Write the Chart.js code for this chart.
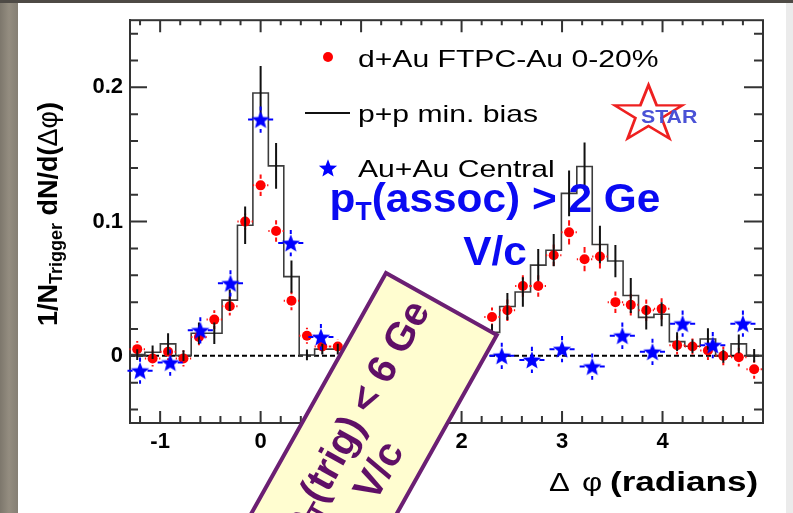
<!DOCTYPE html>
<html><head><meta charset="utf-8">
<script src="https://cdn.jsdelivr.net/npm/chart.js@4"></script>
<style>html,body{margin:0;padding:0;background:#fff;overflow:hidden}#wrap{width:793px;height:513px;position:relative}</style>
</head><body><div id="wrap"><canvas id="c" width="793" height="513"></canvas></div>
<script>
// ---- data ----
const binCenters = [-1.228,-1.075,-0.921,-0.768,-0.614,-0.461,-0.307,-0.154,0,0.154,0.307,0.461,0.614,0.768,0.921,1.075,1.228,1.382,1.535,1.689,1.842,1.996,2.149,2.303,2.456,2.610,2.763,2.917,3.070,3.224,3.377,3.531,3.684,3.838,3.991,4.145,4.298,4.452,4.605,4.759,4.912];
const binHalfWidth = 0.077;
const ppValues = [0.001,0.0027,0.0089,0.0002,0.0168,0.0168,0.0415,0.0973,0.1958,0.1415,0.059,0.0007,0.005,0.005,0.004,0.004,0.004,0.005,0.005,0.006,0.007,0.009,0.012,0.0175,0.0368,0.0476,0.0676,0.0787,0.121,0.141,0.083,0.0706,0.045,0.0287,0.031,0.0106,0.0072,0.0126,-0.0002,0.0089,0.0002];
const ppErrors = [0.004,0.005,0.008,0.004,0.008,0.008,0.008,0.014,0.02,0.017,0.012,0.004,0.004,0.004,0.004,0.004,0.004,0.004,0.004,0.005,0.005,0.005,0.006,0.006,0.01,0.011,0.012,0.012,0.017,0.018,0.014,0.012,0.013,0.009,0.009,0.007,0.005,0.008,0.005,0.007,0.005];
const dAuValues = [0.005,-0.002,0.003,-0.002,0.014,0.027,0.037,0.100,0.127,0.093,0.041,0.015,0.007,0.007,null,null,null,null,null,null,null,null,null,0.029,0.034,0.052,0.052,0.075,0.092,0.072,0.074,0.040,0.038,0.034,0.035,0.008,0.007,0.004,0.000,-0.001,-0.010];
const dAuErrors = [0.006,0.006,0.006,0.006,0.006,0.007,0.007,0.006,0.008,0.008,0.007,0.006,0.005,0.005,null,null,null,null,null,null,null,null,null,0.007,0.008,0.008,0.008,0.008,0.009,0.009,0.009,0.008,0.008,0.008,0.008,0.007,0.006,0.007,0.007,0.007,0.007];
const auX = [-1.2,-0.9,-0.6,-0.3,0,0.3,0.6,2.4,2.7,3.0,3.3,3.6,3.9,4.2,4.5,4.8];
const auValues = [-0.011,-0.005,0.019,0.054,0.176,0.084,0.014,0.000,-0.003,0.005,-0.008,0.015,0.003,0.024,0.008,0.024];
const auErrors = [0.0098,0.0098,0.0098,0.0098,0.0098,0.0098,0.0098,0.0098,0.0098,0.0098,0.0098,0.0098,0.0098,0.0098,0.0098,0.0098];
const auXHalfWidth = 0.125;
const xTickValues = [-1,0,1,2,3,4];
const yTickValues = [0,0.1,0.2];
const legendLabels = ['d+Au FTPC-Au 0-20%','p+p min. bias','Au+Au Central'];

// ---- build datasets ----
const histData = [{x: binCenters[0]-binHalfWidth, y: ppValues[0]}]
  .concat(binCenters.map((x,i)=>({x, y: ppValues[i]})))
  .concat([{x: binCenters[binCenters.length-1]+binHalfWidth, y: ppValues[ppValues.length-1]}]);
const redData = binCenters.map((x,i)=>({x, y: dAuValues[i], e: dAuErrors[i]})).filter(p=>p.y!==null);
const blueData = auX.map((x,i)=>({x, y: auValues[i], e: auErrors[i]}));

function makeStar(R, r, color){
  const c = document.createElement('canvas');
  const s = Math.ceil(2*R+2); c.width = s; c.height = s;
  const g = c.getContext('2d');
  g.fillStyle = color; g.beginPath();
  for (let i=0;i<10;i++){
    const a = -Math.PI/2 + i*Math.PI/5, rr = i%2===0 ? R : r;
    const px = s/2 + rr*Math.cos(a), py = s/2 + rr*Math.sin(a)+0.8;
    i===0 ? g.moveTo(px,py) : g.lineTo(px,py);
  }
  g.closePath(); g.fill();
  return c;
}
const starImg = makeStar(9.6, 4.1, '#0000ff');

const FONT = 'Liberation Sans, Arial, sans-serif';
function drawSegs(ctx, segs, x, y, stretch, align){
  let w = 0;
  segs.forEach(s=>{ctx.font = s.font; s.w = ctx.measureText(s.t).width; w += s.w;});
  ctx.save(); ctx.translate(x,y); ctx.scale(stretch,1);
  ctx.textAlign = 'left'; ctx.textBaseline = 'alphabetic';
  let cx = align==='center' ? -w/2 : (align==='right' ? -w : 0);
  segs.forEach(s=>{ctx.font = s.font; ctx.fillText(s.t, cx, s.dy||0); cx += s.w;});
  ctx.restore();
  return w;
}

const decor = {
  id: 'decor',
  beforeDraw(chart){
    const ctx = chart.ctx;
    ctx.save();
    ctx.fillStyle = '#ffffff'; ctx.fillRect(0,0,793,513);
    const g = ctx.createLinearGradient(0,0,18,0);
    g.addColorStop(0,'#7d776c'); g.addColorStop(0.5,'#948d80'); g.addColorStop(1,'#857f74');
    ctx.fillStyle = g; ctx.fillRect(0,0,18,513);
    ctx.fillStyle = '#4e4a45'; ctx.fillRect(0,0,793,3);
    ctx.fillStyle = '#ebebeb'; ctx.fillRect(786,3,7,510);
    ctx.restore();
  },
  beforeDatasetsDraw(chart){
    const ctx = chart.ctx, a = chart.chartArea, xs = chart.scales.x, ys = chart.scales.y;
    ctx.save();
    ctx.strokeStyle = '#000'; ctx.lineWidth = 2; ctx.setLineDash([5,3]);
    const y0 = ys.getPixelForValue(0);
    ctx.beginPath(); ctx.moveTo(a.left, y0); ctx.lineTo(a.right, y0); ctx.stroke();
    ctx.setLineDash([]);
    ctx.strokeStyle = '#333'; ctx.lineWidth = 2;
    ctx.strokeRect(a.left, a.top, a.right-a.left, a.bottom-a.top);
    ctx.beginPath();
    for (let v=-1.2; v<=5.0001; v+=0.2){
      const px = xs.getPixelForValue(v);
      const major = Math.abs(v-Math.round(v))<1e-6;
      ctx.moveTo(px, a.bottom); ctx.lineTo(px, a.bottom-(major?12:7));
      ctx.moveTo(px, a.top); ctx.lineTo(px, a.top+(major?12:5));
    }
    for (let v=-0.04; v<=0.2401; v+=0.02){
      const py = ys.getPixelForValue(v);
      const major = Math.abs(v*10-Math.round(v*10))<1e-6;
      ctx.moveTo(a.left, py); ctx.lineTo(a.left+(major?17:8), py);
      ctx.moveTo(a.right, py); ctx.lineTo(a.right-(major?19:9), py);
    }
    ctx.stroke();
    ctx.restore();
  },
  beforeDatasetDraw(chart, args){
    const ctx = chart.ctx, xs = chart.scales.x, ys = chart.scales.y;
    ctx.save();
    if (args.index === 1){
      ctx.strokeStyle = '#ff1010'; ctx.lineWidth = 2;
      ctx.beginPath();
      redData.forEach(p=>{
        const px = xs.getPixelForValue(p.x), py = ys.getPixelForValue(p.y);
        const dy = ys.getPixelForValue(p.y-p.e) - py;
        const dx = xs.getPixelForValue(p.x+binHalfWidth) - px;
        ctx.moveTo(px, py-dy); ctx.lineTo(px, py-6.5);
        ctx.moveTo(px, py+6.5); ctx.lineTo(px, py+dy);
        ctx.moveTo(px-dx, py); ctx.lineTo(px-6.5, py);
        ctx.moveTo(px+6.5, py); ctx.lineTo(px+dx, py);
      });
      ctx.stroke();
    }
    if (args.index === 2){
      ctx.strokeStyle = '#111'; ctx.lineWidth = 2;
      ctx.beginPath();
      binCenters.forEach((x,i)=>{
        const px = xs.getPixelForValue(x);
        ctx.moveTo(px, ys.getPixelForValue(ppValues[i]-ppErrors[i]));
        ctx.lineTo(px, ys.getPixelForValue(ppValues[i]+ppErrors[i]));
      });
      ctx.stroke();
      ctx.strokeStyle = '#0000ff'; ctx.lineWidth = 2;
      ctx.beginPath();
      blueData.forEach(p=>{
        const px = xs.getPixelForValue(p.x), py = ys.getPixelForValue(p.y);
        const dy = ys.getPixelForValue(p.y-p.e) - py;
        const dx = xs.getPixelForValue(p.x+auXHalfWidth) - px;
        ctx.moveTo(px, py-dy); ctx.lineTo(px, py-9);
        ctx.moveTo(px, py+9.5); ctx.lineTo(px, py+dy);
        ctx.moveTo(px-dx, py); ctx.lineTo(px-7.5, py);
        ctx.moveTo(px+7.5, py); ctx.lineTo(px+dx, py);
      });
      ctx.stroke();
    }
    ctx.restore();
  },
  afterDatasetsDraw(chart){
    const ctx = chart.ctx;
    ctx.save();
    // legend
    ctx.fillStyle = '#ff0000';
    ctx.beginPath(); ctx.arc(328, 57, 5, 0, Math.PI*2); ctx.fill();
    ctx.strokeStyle = '#111'; ctx.lineWidth = 2;
    ctx.beginPath(); ctx.moveTo(305,113); ctx.lineTo(350,113); ctx.stroke();
    ctx.drawImage(starImg, 328-starImg.width/2, 168-starImg.height/2);
    ctx.fillStyle = '#000';
    const lf = '24px '+FONT;
    drawSegs(ctx, [{t:legendLabels[0], font:lf}], 358, 66.5, 1.255, 'left');
    drawSegs(ctx, [{t:legendLabels[1], font:lf}], 358, 121.5, 1.255, 'left');
    drawSegs(ctx, [{t:legendLabels[2], font:lf}], 358, 176.7, 1.255, 'left');

    // STAR logo
    ctx.save();
    ctx.translate(648.5, 114.5); ctx.scale(1.2, 1);
    ctx.strokeStyle = '#ee2020'; ctx.lineWidth = 2.4; ctx.lineJoin = 'miter';
    ctx.beginPath();
    for (let i=0;i<10;i++){
      const ang = -Math.PI/2 + i*Math.PI/5, rr = i%2===0 ? 29.5 : 11.5;
      const px = rr*Math.cos(ang), py = rr*Math.sin(ang);
      i===0 ? ctx.moveTo(px,py) : ctx.lineTo(px,py);
    }
    ctx.closePath(); ctx.stroke();
    ctx.restore();
    ctx.fillStyle = '#4a52d6';
    drawSegs(ctx, [{t:'STAR', font:'bold 19px '+FONT}], 641, 122.5, 1.12, 'left');

    // blue annotation
    ctx.fillStyle = '#0a0af2';
    const bf = 'bold 40px '+FONT;
    drawSegs(ctx, [{t:'p', font:bf},{t:'T', font:'bold 25px '+FONT, dy:8},{t:'(assoc) > 2 Ge', font:bf}], 495, 212, 1.06, 'center');
    drawSegs(ctx, [{t:'V/c', font:bf}], 495, 265, 1.06, 'center');

    // rotated trigger box
    ctx.save();
    ctx.translate(386, 273);
    ctx.rotate(-60.75*Math.PI/180);
    ctx.fillStyle = '#fffdd0';
    ctx.fillRect(-700, 0, 700, 127);
    ctx.strokeStyle = '#6b1f73'; ctx.lineWidth = 4;
    ctx.strokeRect(-700, 0, 700, 127);
    ctx.fillStyle = '#5f0f66';
    const pf = 'bold 40px '+FONT;
    drawSegs(ctx, [{t:'4 < p', font:pf},{t:'T', font:'bold 25px '+FONT, dy:8},{t:'(trig) < 6 Ge', font:pf}], -176, 57, 1, 'center');
    drawSegs(ctx, [{t:'V/c', font:pf}], -176, 103, 1, 'center');
    ctx.restore();

    // axis titles
    ctx.fillStyle = '#000';
    ctx.save();
    ctx.translate(57, 326); ctx.rotate(-Math.PI/2);
    drawSegs(ctx, [
      {t:'1/N', font:'bold 27px '+FONT},
      {t:'Trigger', font:'bold 18px '+FONT, dy:5},
      {t:' dN/d(', font:'bold 27px '+FONT},
      {t:'\u0394\u03c6', font:'27px '+FONT},
      {t:')', font:'bold 27px '+FONT}
    ], 0, 0, 1, 'left');
    ctx.restore();
    drawSegs(ctx, [{t:'\u0394', font:'26px '+FONT}], 549, 491, 1.2, 'left');
    drawSegs(ctx, [{t:'\u03c6', font:'26px '+FONT}], 582, 491, 1.2, 'left');
    drawSegs(ctx, [{t:'(radians)', font:'bold 27px '+FONT}], 610, 491, 1.3, 'left');
    ctx.restore();
  }
};

new Chart(document.getElementById('c'), {
  type: 'scatter',
  data: { datasets: [
    { type:'line', label:'p+p min. bias', data: histData, stepped:'middle', borderColor:'#3c3c3c', borderWidth:1.6, pointRadius:0, fill:false, order:3 },
    { type:'scatter', label:'d+Au FTPC-Au 0-20%', data: redData, pointRadius:5, pointBackgroundColor:'#ff0000', pointBorderWidth:0, order:2 },
    { type:'scatter', label:'Au+Au Central', data: blueData, pointStyle: starImg, pointRadius:9, order:1 }
  ]},
  options: {
    responsive:false, animation:false, devicePixelRatio:1,
    layout:{padding:{left:0, top:20, right:30, bottom:0}},
    plugins:{legend:{display:false}, tooltip:{enabled:false}},
    scales:{
      x:{ type:'linear', min:-1.3, max:5.0,
          grid:{display:false, drawTicks:false}, border:{display:true, color:'#333', width:2},
          afterBuildTicks: s=>{ s.ticks = xTickValues.map(v=>({value:v})); },
          afterFit: s=>{ s.height = 90; },
          ticks:{ padding:6, color:'#000', font:{family:FONT, size:22, weight:'bold'}, callback:v=>String(v), maxRotation:0, autoSkip:false } },
      y:{ type:'linear', min:-0.05, max:0.25,
          grid:{display:false, drawTicks:false}, border:{display:true, color:'#333', width:2},
          afterBuildTicks: s=>{ s.ticks = yTickValues.map(v=>({value:v})); },
          afterFit: s=>{ s.width = 130; },
          ticks:{ padding:7, color:'#000', font:{family:FONT, size:22, weight:'bold'}, callback:v=>String(v), autoSkip:false } }
    }
  },
  plugins:[decor]
});
</script></body></html>
